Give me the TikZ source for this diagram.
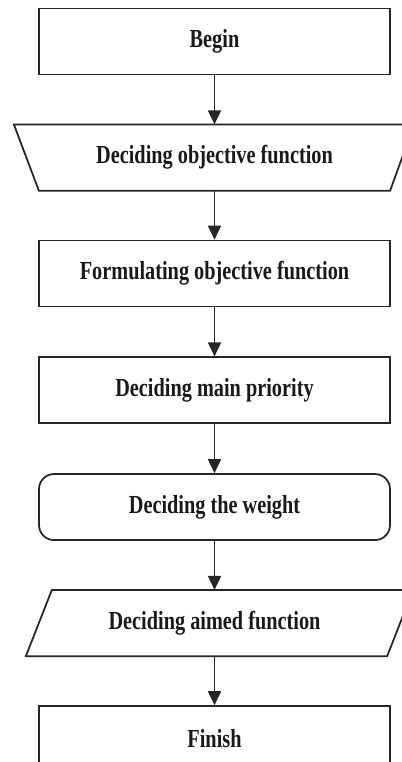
\documentclass[tikz,border=0pt]{standalone}
\usepackage{fontspec}
\setmainfont[FakeStretch=0.78]{Liberation Serif}
\usetikzlibrary{arrows.meta, positioning}

\tikzset{
  stepnode/.style={minimum width=17.55cm, minimum height=3.3cm, inner sep=0pt,
    font=\fontsize{37}{44}\selectfont\bfseries, text=black!90},
  boxnode/.style={stepnode, draw=black!85, line width=2.5pt},
  outline/.style={draw=black!85, line width=2.5pt},
  flow/.style={-{Triangle[length=0.7cm, width=0.65cm]}, draw=black!85, line width=2.5pt}
}

\begin{document}
\begin{tikzpicture}[node distance=2.45cm]
\useasboundingbox (0,0) rectangle (20.1,-38.1);

% Steps of the flow
\node[boxnode] (begin) at (10.725,-2.075) {Begin};
\node[stepnode, below=of begin] (objective) {Deciding objective function};
\node[boxnode, below=of objective] (formulate) {Formulating objective function};
\node[boxnode, below=of formulate] (priority) {Deciding main priority};
\node[boxnode, rounded corners=0.75cm, below=of priority] (weight) {Deciding the weight};
\node[stepnode, below=of weight] (aimed) {Deciding aimed function};
\node[boxnode, below=of aimed] (finish) {Finish};

% Trapezium round the objective step
\draw[outline] ([xshift=-1.25cm]objective.north west) -- ([xshift=1.2cm]objective.north east)
  -- (objective.south east) -- (objective.south west) -- cycle;

% Parallelogram round the aimed step
\draw[outline] ([xshift=0.65cm]aimed.north west) -- ([xshift=1.15cm]aimed.north east)
  -- ([xshift=-0.15cm]aimed.south east) -- ([xshift=-0.65cm]aimed.south west) -- cycle;

% Arrows
\foreach \from/\to in {begin/objective, objective/formulate, formulate/priority,
    priority/weight, weight/aimed, aimed/finish}
  \draw[flow] (\from) -- (\to);

\end{tikzpicture}
\end{document}
